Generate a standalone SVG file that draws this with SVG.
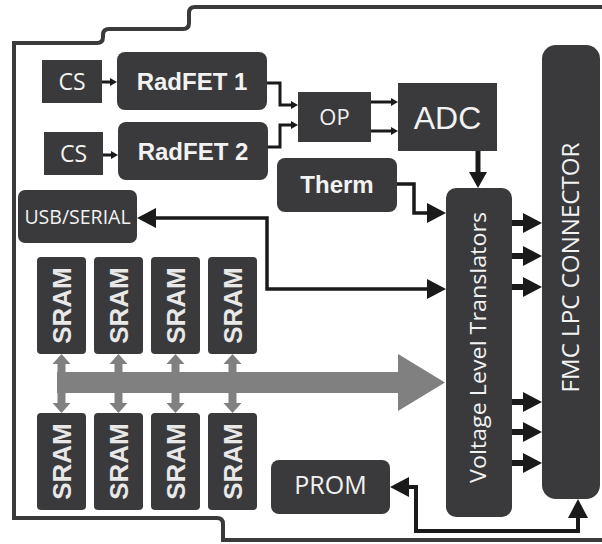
<svg xmlns="http://www.w3.org/2000/svg" width="602" height="544" viewBox="0 0 602 544">
<style>
.nd{fill:#3a3a3c}
.tw{fill:#f2f2f2}
.os{font-family:"Open Sans","Liberation Sans",sans-serif}
.ab{font-family:"Liberation Sans",Arial,sans-serif;font-weight:bold}
.ar{font-family:"Liberation Sans",Arial,sans-serif}
.sr{font-family:"Liberation Sans",Arial,sans-serif;font-weight:bold;font-size:26px;fill:#e8e8e8}
.cn{fill:none;stroke:#1a1a1a;stroke-linejoin:miter}
.gr{fill:#808080}
</style>
<defs>
<marker id="ahs" viewBox="0 0 7 8" refX="3" refY="4" markerWidth="7" markerHeight="8" markerUnits="userSpaceOnUse" orient="auto-start-reverse"><path d="M0,0 L7,4 L0,8 z" fill="#1a1a1a"/></marker>
<marker id="ahl" viewBox="0 0 19 20" refX="9" refY="10" markerWidth="19" markerHeight="20" markerUnits="userSpaceOnUse" orient="auto-start-reverse"><path d="M0,0 L19,10 L0,20 z" fill="#1a1a1a"/></marker>
<marker id="ahm" viewBox="0 0 16 18" refX="8" refY="9" markerWidth="16" markerHeight="18" markerUnits="userSpaceOnUse" orient="auto"><path d="M0,0 L16,9 L0,18 z" fill="#1a1a1a"/></marker>
<polygon id="garr" class="gr" points="0,354 9,364 4,364 4,403 9,403 0,413 -9,403 -4,403 -4,364 -9,364"/>
</defs>

<path d="M602 7 H195 Q189 7 189 13 V23 Q189 29 183 29 H109 Q103 29 103 35 V37 Q103 43 97 43 H14 V518 H217 Q223 518 223 524 V540 H602" fill="none" stroke="#3a3a3a" stroke-width="4"/>

<g id="connectors">
<line class="cn" x1="102" y1="82" x2="113" y2="82" stroke-width="3" marker-end="url(#ahs)"/>
<line class="cn" x1="103" y1="155" x2="114" y2="155" stroke-width="3" marker-end="url(#ahs)"/>
<path class="cn" d="M267 83 H280 V105 H294" stroke-width="3" marker-end="url(#ahs)"/>
<path class="cn" d="M268 147 H280 V125 H294" stroke-width="3" marker-end="url(#ahs)"/>
<line class="cn" x1="371" y1="102" x2="394" y2="102" stroke-width="3" marker-end="url(#ahs)"/>
<line class="cn" x1="371" y1="131" x2="394" y2="131" stroke-width="3" marker-end="url(#ahs)"/>
<line class="cn" x1="478" y1="151" x2="478" y2="180" stroke-width="5" marker-end="url(#ahm)"/>
<path class="cn" d="M397 184 H414 V213 H436" stroke-width="3.5" marker-end="url(#ahl)"/>
<path class="cn" d="M147 218 H267 V289 H436" stroke-width="3.5" marker-start="url(#ahl)" marker-end="url(#ahl)"/>
<line class="cn" x1="512" y1="223" x2="532" y2="223" stroke-width="6" marker-end="url(#ahl)"/>
<line class="cn" x1="512" y1="256" x2="532" y2="256" stroke-width="6" marker-end="url(#ahl)"/>
<line class="cn" x1="512" y1="287" x2="532" y2="287" stroke-width="6" marker-end="url(#ahl)"/>
<line class="cn" x1="512" y1="402" x2="532" y2="402" stroke-width="6" marker-end="url(#ahl)"/>
<line class="cn" x1="512" y1="432" x2="532" y2="432" stroke-width="6" marker-end="url(#ahl)"/>
<line class="cn" x1="512" y1="463" x2="532" y2="463" stroke-width="6" marker-end="url(#ahl)"/>
<path class="cn" d="M400 487 H416 V531 H578 V509" stroke-width="4" marker-start="url(#ahl)" marker-end="url(#ahl)"/>
<polygon class="gr" points="57,372 398,372 398,354 445,382.5 398,411 398,393 57,393"/>
<use href="#garr" x="61.5"/>
<use href="#garr" x="118.5"/>
<use href="#garr" x="175.5"/>
<use href="#garr" x="232.5"/>
</g>

<g id="cs1"><rect class="nd" x="42" y="60" width="60" height="43"/><text class="tw os" x="72" y="90" font-size="23" text-anchor="middle">CS</text></g>
<g id="cs2"><rect class="nd" x="44" y="132" width="59" height="43"/><text class="tw os" x="73.5" y="162" font-size="23" text-anchor="middle">CS</text></g>
<g id="radfet1"><rect class="nd" x="117" y="52" width="150" height="58" rx="8"/><text class="tw ab" x="192" y="90" font-size="24" text-anchor="middle">RadFET 1</text></g>
<g id="radfet2"><rect class="nd" x="118" y="122" width="150" height="58" rx="8"/><text class="tw ab" x="193" y="160" font-size="24" text-anchor="middle">RadFET 2</text></g>
<g id="op"><rect class="nd" x="298" y="92" width="73" height="50"/><text class="tw os" x="334.5" y="125" font-size="22" text-anchor="middle">OP</text></g>
<g id="adc"><rect class="nd" x="398" y="83" width="99" height="68"/><text class="tw ar" x="447.5" y="129" font-size="32" text-anchor="middle">ADC</text></g>
<g id="therm"><rect class="nd" x="277" y="158" width="120" height="54" rx="8"/><text class="tw ab" x="337" y="193" font-size="24" text-anchor="middle">Therm</text></g>
<g id="usb"><rect class="nd" x="18" y="190" width="119" height="53" rx="7"/><text class="tw os" x="77.5" y="224" font-size="19.5" text-anchor="middle">USB/SERIAL</text></g>
<g id="prom"><rect class="nd" x="271" y="460" width="119" height="54" rx="8"/><text class="tw os" x="330.5" y="494" font-size="25" text-anchor="middle">PROM</text></g>
<g id="vlt"><rect class="nd" x="446" y="188" width="66" height="329" rx="10"/><text class="tw os" x="486" y="347.5" font-size="21" text-anchor="middle" textLength="271" lengthAdjust="spacingAndGlyphs" transform="rotate(-90 486 347.5)">Voltage Level Translators</text></g>
<g id="fmc"><rect class="nd" x="542" y="45" width="58" height="454" rx="14"/><text class="tw os" x="579" y="267.5" font-size="23" text-anchor="middle" textLength="250" lengthAdjust="spacingAndGlyphs" transform="rotate(-90 579 267.5)">FMC LPC CONNECTOR</text></g>

<g id="sram1"><rect class="nd" x="37" y="257" width="49" height="97" rx="4"/><text class="sr" x="71" y="305.5" text-anchor="middle" transform="rotate(-90 71 305.5)">SRAM</text></g>
<g id="sram2"><rect class="nd" x="94" y="257" width="49" height="97" rx="4"/><text class="sr" x="128" y="305.5" text-anchor="middle" transform="rotate(-90 128 305.5)">SRAM</text></g>
<g id="sram3"><rect class="nd" x="151" y="257" width="49" height="97" rx="4"/><text class="sr" x="185" y="305.5" text-anchor="middle" transform="rotate(-90 185 305.5)">SRAM</text></g>
<g id="sram4"><rect class="nd" x="208" y="257" width="49" height="97" rx="4"/><text class="sr" x="242" y="305.5" text-anchor="middle" transform="rotate(-90 242 305.5)">SRAM</text></g>
<g id="sram5"><rect class="nd" x="37" y="413" width="49" height="97" rx="4"/><text class="sr" x="71" y="461.5" text-anchor="middle" transform="rotate(-90 71 461.5)">SRAM</text></g>
<g id="sram6"><rect class="nd" x="94" y="413" width="49" height="97" rx="4"/><text class="sr" x="128" y="461.5" text-anchor="middle" transform="rotate(-90 128 461.5)">SRAM</text></g>
<g id="sram7"><rect class="nd" x="151" y="413" width="49" height="97" rx="4"/><text class="sr" x="185" y="461.5" text-anchor="middle" transform="rotate(-90 185 461.5)">SRAM</text></g>
<g id="sram8"><rect class="nd" x="208" y="413" width="49" height="97" rx="4"/><text class="sr" x="242" y="461.5" text-anchor="middle" transform="rotate(-90 242 461.5)">SRAM</text></g>
</svg>
